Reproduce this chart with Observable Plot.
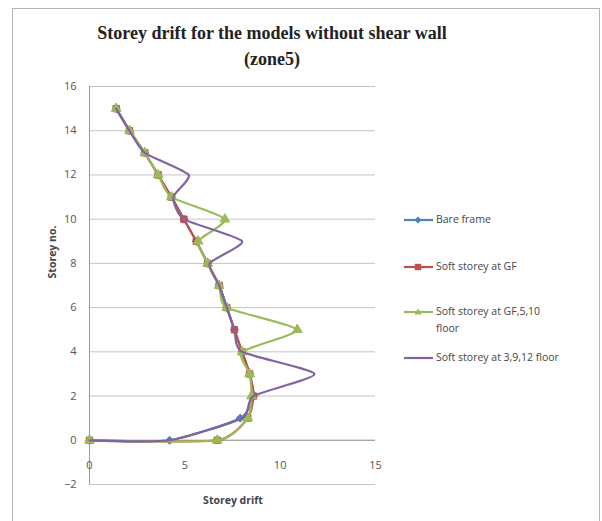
<!DOCTYPE html>
<html>
<head>
<meta charset="utf-8">
<script src="https://cdn.jsdelivr.net/npm/d3@7"></script>
<script src="https://cdn.jsdelivr.net/npm/@observablehq/plot@0.6"></script>
<style>
  body { margin: 0; background: #fff; }
  #wrap { position: relative; width: 602px; height: 521px; overflow: hidden; background: #fff; }
  #frame { position: absolute; left: 12px; top: 8px; width: 588px; height: 530px; border: 1px solid #b5b5b5; box-sizing: border-box; }
  #title { position: absolute; left: 0; width: 544px; top: 20px; text-align: center;
           font-family: "Liberation Serif", "Times New Roman", serif; font-weight: bold; font-size: 18px; line-height: 26px; color: #222; }
  #chart { position: absolute; left: 0; top: 0; }
  #legend { position: absolute; left: 404px; top: 0; font-family: "Open Sans", "Liberation Sans", sans-serif; font-size: 10.5px; color: #444; }
  .item { position: absolute; left: 0; white-space: nowrap; display: flex; align-items: flex-start; }
  .item svg { flex: none; margin-right: 3px; }
  .item span { line-height: 17px; }
</style>
</head>
<body>
<div id="wrap">
  <div id="frame"></div>
  <div id="chart"></div>
  <div id="title">Storey drift for the models without shear wall<br>(zone5)</div>
  <div id="legend"></div>
</div>
<script>
// Data
const storeys = [0, 0, 1, 2, 3, 4, 5, 6, 7, 8, 9, 10, 11, 12, 13, 14, 15];
const bareFrame      = [0, 4.2, 7.9, 8.6, 8.4, 8.0, 7.6, 7.2, 6.8, 6.2, 5.6, 4.95, 4.3, 3.6, 2.9, 2.1, 1.4];
const softGF         = [0, 6.7, 8.3, 8.6, 8.4, 8.0, 7.6, 7.2, 6.8, 6.2, 5.6, 4.95, 4.3, 3.6, 2.9, 2.1, 1.4];
const softGF510      = [0, 6.7, 8.3, 8.5, 8.4, 8.0, 10.9, 7.2, 6.8, 6.2, 5.7, 7.1, 4.3, 3.6, 2.9, 2.1, 1.4];
const soft3912       = [0, 4.2, 8.0, 8.6, 11.8, 8.0, 7.6, 7.2, 6.8, 6.3, 8.0, 4.95, 4.4, 5.2, 2.9, 2.1, 1.4];
const seriesNames = ["Bare frame", "Soft storey at GF", "Soft storey at GF,5,10 floor", "Soft storey at 3,9,12 floor"];
const seriesColors = ["#4F81BD", "#C0504D", "#9BBB59", "#8064A2"];
const seriesSymbols = ["diamond2", "square", "triangle", null];
const xTicks = [0, 5, 10, 15];
const yTicks = [-2, 0, 2, 4, 6, 8, 10, 12, 14, 16];

const allSeries = [bareFrame, softGF, softGF510, soft3912];
const rows = (vals, s) => vals.map((v, i) => ({drift: v, storey: storeys[i], series: seriesNames[s]}));

const marks = [
  Plot.ruleY(yTicks, {stroke: "#c4c4c4", strokeWidth: 1}),
  Plot.ruleY([0], {stroke: "#9a9a9a", strokeWidth: 1}),
  Plot.ruleX([0], {stroke: "#9a9a9a", strokeWidth: 1}),
  Plot.text(xTicks, {x: d => d, y: () => 0, dy: 25, text: d => String(d), fill: "#555", fontSize: 11, fontFamily: "Open Sans, Liberation Sans, sans-serif"})
];
allSeries.forEach((vals, s) => {
  const data = rows(vals, s);
  marks.push(Plot.line(data, {x: "drift", y: "storey", stroke: seriesColors[s], strokeWidth: 2.2, curve: "cardinal", tension: 0.4}));
  if (seriesSymbols[s]) {
    marks.push(Plot.dot(data, {x: "drift", y: "storey", symbol: () => seriesSymbols[s], fill: seriesColors[s], stroke: seriesColors[s], r: 3.6, strokeWidth: 1}));
  }
});

const chart = Plot.plot({
  width: 602,
  height: 521,
  marginLeft: 89,
  marginRight: 227,
  marginTop: 86,
  marginBottom: 37,
  style: {background: "transparent", fontFamily: "Open Sans, Liberation Sans, sans-serif"},
  x: {domain: [0, 15], axis: null},
  y: {domain: [-2, 16], axis: null},
  symbol: {type: "identity"},
  marks: [
    ...marks,
    Plot.axisY(yTicks, {tickSize: 0, tickPadding: 13, fill: "#555", fontSize: 11, label: null})
  ]
});
document.getElementById("chart").appendChild(chart);

// axis titles as SVG text
const ns = "http://www.w3.org/2000/svg";
const xt = document.createElementNS(ns, "text");
xt.setAttribute("x", 233); xt.setAttribute("y", 504);
xt.setAttribute("text-anchor", "middle");
xt.setAttribute("font-family", "Open Sans, Liberation Sans, sans-serif");
xt.setAttribute("font-size", "10.5"); xt.setAttribute("font-weight", "bold"); xt.setAttribute("fill", "#444");
xt.textContent = "Storey drift";
chart.appendChild(xt);
const yt = document.createElementNS(ns, "text");
yt.setAttribute("transform", "translate(56,252) rotate(-90)");
yt.setAttribute("text-anchor", "middle");
yt.setAttribute("font-family", "Open Sans, Liberation Sans, sans-serif");
yt.setAttribute("font-size", "10.5"); yt.setAttribute("font-weight", "bold"); yt.setAttribute("fill", "#444");
yt.textContent = "Storey no.";
chart.appendChild(yt);

// legend
const legendTops = [211, 258, 303, 349];
const legendLabels = ["Bare frame", "Soft storey at GF", "Soft storey at GF,5,10<br>floor", "Soft storey at 3,9,12 floor"];
const legend = document.getElementById("legend");
seriesNames.forEach((name, s) => {
  const item = document.createElement("div");
  item.className = "item";
  item.style.top = legendTops[s] + "px";
  const sym = seriesSymbols[s];
  let marker = "";
  if (sym === "diamond2") marker = `<path d="M14,5.5 L17.5,9 L14,12.5 L10.5,9 Z" fill="${seriesColors[s]}"/>`;
  else if (sym === "square") marker = `<rect x="10.8" y="5.8" width="6.4" height="6.4" fill="${seriesColors[s]}"/>`;
  else if (sym === "triangle") marker = `<path d="M14,5.5 L17.5,11.5 L10.5,11.5 Z" fill="${seriesColors[s]}"/>`;
  item.innerHTML = `<svg width="29" height="17"><line x1="0" x2="29" y1="9" y2="9" stroke="${seriesColors[s]}" stroke-width="2.2"/>${marker}</svg><span>${legendLabels[s]}</span>`;
  legend.appendChild(item);
});
</script>
</body>
</html>
